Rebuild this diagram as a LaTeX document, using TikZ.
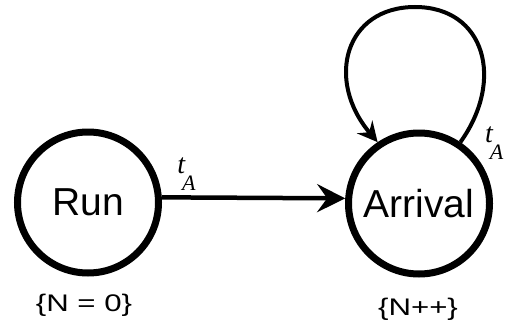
\documentclass[tikz,border=0pt]{standalone}
\usepackage{fontspec}
\setmainfont{Liberation Sans}
\newfontfamily\tms{Liberation Serif}
\usetikzlibrary{arrows.meta}
\tikzset{
  state/.style={circle, draw, line width=7pt, minimum size=141pt, inner sep=0pt,
    font=\fontsize{39}{39}\selectfont},
  cond/.style={font=\fontsize{24}{24}\selectfont, xscale=1.3, inner sep=0pt},
  edge/.style={line width=4.5pt, -{Stealth[length=28pt, width=28pt, inset=10pt]}},
  loopedge/.style={line width=4pt, -{Stealth[length=20pt, width=20pt, inset=7pt]}},
  tlabel/.style={inner sep=0pt, font=\tms\itshape\fontsize{28}{28}\selectfont}
}
\newcommand{\tsub}{t\kern-3pt\raisebox{-17pt}{\fontsize{22}{22}\selectfont A}}
\begin{document}
\begin{tikzpicture}[x=1pt, y=1pt]
\useasboundingbox (0,0) rectangle (505,330);
\node[state] (run) at (88,127.5) {Run};
\node[state] (arr) at (419,126.5) {Arrival};
\draw[edge] (run.4) -- node[pos=0.072, anchor=south west, yshift=5pt, tlabel] (l1) {\tsub} (arr.176);
\coordinate (looptop) at (415,323);
\draw[loopedge] (arr.56) .. controls (505,250) and (485,323) .. (looptop)
  .. controls (345,323) and (325,250) .. (arr.124);
\node[tlabel, anchor=south west] (l2) at ([shift={(66,43.5)}]arr.center) {\tsub};
\node[cond] (c1) at (84,25) {\{N = 0\}};
\node[cond] (c2) at (418,21) {\{N++\}};
\end{tikzpicture}
\end{document}
